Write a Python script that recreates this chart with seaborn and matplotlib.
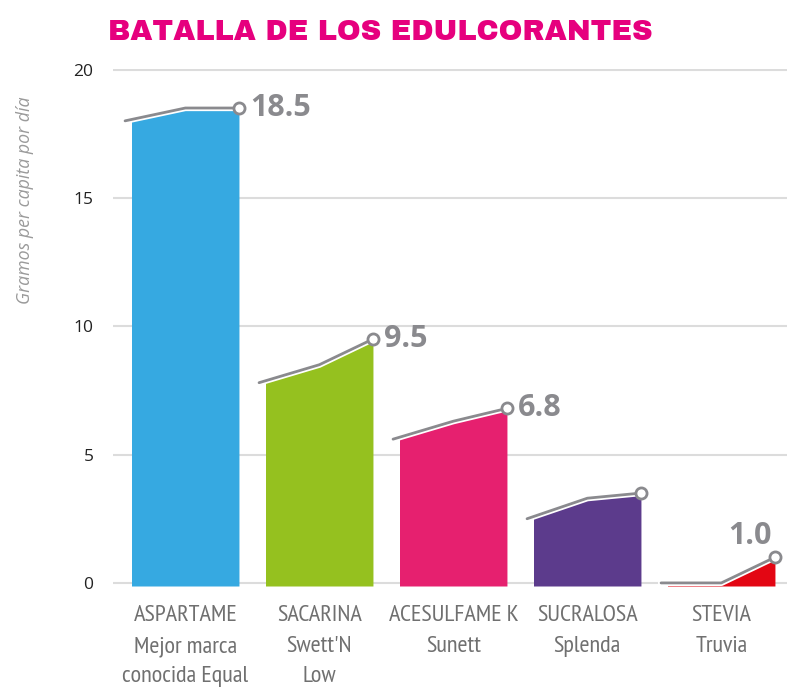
import numpy as np
import pandas as pd
import matplotlib
matplotlib.use("Agg")
import matplotlib.pyplot as plt
import matplotlib.patheffects as pe
from matplotlib.patches import Rectangle
import seaborn as sns

# Sweetener consumption, grams per capita per day (start, middle, latest)
categories = ["ASPARTAME\nMejor marca\nconocida Equal", "SACARINA\nSwett'N\nLow",
              "ACESULFAME K\nSunett", "SUCRALOSA\nSplenda", "STEVIA\nTruvia"]
start_values = [18.0, 7.8, 5.6, 2.5, 0.0]
mid_values = [18.5, 8.5, 6.3, 3.3, 0.0]
end_values = [18.5, 9.5, 6.8, 3.5, 1.0]
value_labels = ["18.5", "9.5", "6.8", None, "1.0"]
fill_colors = ["#36a9e1", "#95c11f", "#e6206f", "#5c3b8c", "#e30613"]
y_ticks = [0, 5, 10, 15, 20]

sns.set_style("white")
plt.rcParams["font.family"] = ["Open Sans", "DejaVu Sans"]

W, H = 787, 692
fig = plt.figure(figsize=(W / 100, H / 100), dpi=100)
ax = fig.add_axes([113 / W, (H - 586) / H, (W - 113) / W, (586 - 69) / H])

GRAY = "#8a8a8e"
half = 0.4
lead = 0.05

rows = []
for i, cat in enumerate(categories):
    for dx, v in zip([-half - lead, 0.0, half], [start_values[i], mid_values[i], end_values[i]]):
        rows.append({"category": cat, "x": i + dx, "value": v})
df = pd.DataFrame(rows)

for i, cat in enumerate(categories):
    sub = df[df["category"] == cat]
    poly = ax.fill_between(sub["x"], -0.12, sub["value"], color=fill_colors[i],
                           linewidth=0, zorder=2)
    poly.set_clip_path(Rectangle((i - half, -1), 2 * half, 30, transform=ax.transData))
    sns.lineplot(data=sub, x="x", y="value", ax=ax, color=GRAY, linewidth=2.0,
                 estimator=None, sort=False, zorder=3)
    ax.lines[-1].set_path_effects([pe.Stroke(linewidth=4.5, foreground="white"), pe.Normal()])
    ax.plot([i + half], [end_values[i]], marker="o", markersize=8, markerfacecolor="white",
            markeredgecolor=GRAY, markeredgewidth=2.0, zorder=4, clip_on=False)
    lab = value_labels[i]
    if lab is not None:
        if i == len(categories) - 1:
            ax.annotate(lab, (i + half, end_values[i]), xytext=(-2, 15), textcoords="offset points",
                        ha="right", va="center", fontsize=22, fontweight="bold", color=GRAY,
                        annotation_clip=False)
        else:
            ax.annotate(lab, (i + half, end_values[i]), xytext=(8, 0), textcoords="offset points",
                        ha="left", va="center", fontsize=22, fontweight="bold", color=GRAY,
                        annotation_clip=False)

ax.set_xlim(-0.54, 4.49)
ax.set_ylim(-0.12, 20.02)
ax.set_yticks(y_ticks)
ax.set_yticklabels([str(t) for t in y_ticks], fontsize=12.5, color="#222222")
ax.set_xticks(range(len(categories)))
ax.set_xticklabels(categories, fontsize=17.5, color="#707070", linespacing=1.58,
                   family=["PT Sans Narrow", "DejaVu Sans"])
ax.tick_params(axis="y", length=0, pad=14)
ax.tick_params(axis="x", length=0, pad=14)
ax.grid(axis="y", color="#dcdcdc", linewidth=1.5, zorder=0)
ax.set_axisbelow(True)
ax.set_xlabel("")
ax.set_ylabel("")
for s in ax.spines.values():
    s.set_visible(False)

fig.text(25 / W, 1 - 200 / H, "Gramos per capita por día", rotation=90, ha="center", va="center",
         fontsize=12.8, style="italic", color="#9a9a9a")
fig.text(108 / W, 1 - 40 / H, "BATALLA DE LOS EDULCORANTES", ha="left", va="baseline",
         fontsize=20.6, color="#e6007e", family=["Archivo Black", "DejaVu Sans"])

fig.savefig("out.png", dpi=100)
